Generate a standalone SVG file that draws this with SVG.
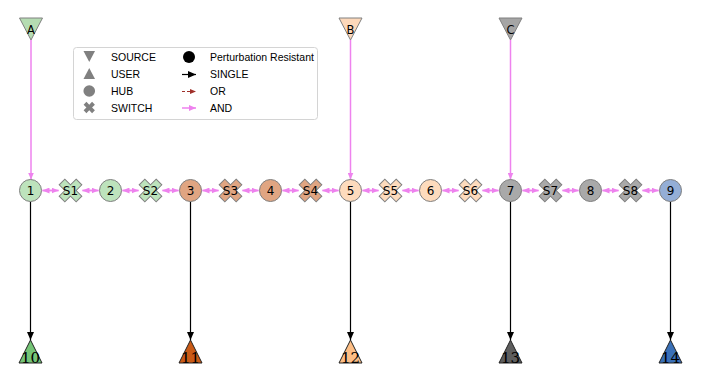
<svg xmlns="http://www.w3.org/2000/svg" xmlns:xlink="http://www.w3.org/1999/xlink" width="703" height="380" viewBox="0 0 703 380">
<style>
.nl{font-family:"DejaVu Sans",sans-serif;font-size:12px;fill:#000;text-anchor:middle}
.sl{font-family:"DejaVu Sans",sans-serif;font-size:11.5px;fill:#000;text-anchor:middle}
.ul{font-family:"DejaVu Serif",serif;font-size:15px;fill:#000;text-anchor:middle}
.lg{font-family:"Liberation Sans",Arial,sans-serif;font-size:10.5px;fill:#000}
.hub{stroke:#808080;stroke-width:1}
.sw{stroke:#808080;stroke-width:1}
.src{stroke:#808080;stroke-width:1}
.usr{stroke:#222;stroke-width:1}
.and{stroke:#ee82ee;stroke-width:1.5;fill:none;marker-end:url(#mp)}
.single{stroke:#000;stroke-width:1.2;fill:none;marker-end:url(#mb)}
.g1{fill:#bde3bc}.g2{fill:#e0a582}.g3{fill:#fddbbd}.g4{fill:#a9a9a9}.g5{fill:#94aed6}
</style>
<defs>
<marker id="mp" markerUnits="userSpaceOnUse" markerWidth="7" markerHeight="6" refX="7" refY="3" orient="auto"><path d="M0,0 L7,3 L0,6 z" fill="#ee82ee"/></marker>
<marker id="mb" markerUnits="userSpaceOnUse" markerWidth="8" markerHeight="7" refX="8" refY="3.5" orient="auto"><path d="M0,0 L8,3.5 L0,7 z" fill="#000"/></marker>
<marker id="mr" markerUnits="userSpaceOnUse" markerWidth="6" markerHeight="5" refX="6" refY="2.5" orient="auto"><path d="M0,0 L6,2.5 L0,5 z" fill="#a0302a"/></marker>
<polygon id="xs" points="-4,-12 4,-12 4,-4 12,-4 12,4 4,4 4,12 -4,12 -4,4 -12,4 -12,-4 -4,-4" transform="rotate(45)"/>
<polygon id="xl" points="-2,-6 2,-6 2,-2 6,-2 6,2 2,2 2,6 -2,6 -2,2 -6,2 -6,-2 -2,-2" transform="rotate(45)"/>
</defs>
<rect width="703" height="380" fill="#fff"/>

<g id="connectors">
<!-- sources to hubs -->
<line class="and" x1="31" y1="40" x2="31" y2="179.5"/>
<line class="and" x1="350.5" y1="40" x2="350.5" y2="179.5"/>
<line class="and" x1="510.5" y1="40" x2="510.5" y2="179.5"/>
<!-- hubs to users -->
<line class="single" x1="30.5" y1="201.5" x2="30.5" y2="340"/>
<line class="single" x1="190.5" y1="201.5" x2="190.5" y2="340"/>
<line class="single" x1="350.5" y1="201.5" x2="350.5" y2="340"/>
<line class="single" x1="510.5" y1="201.5" x2="510.5" y2="340"/>
<line class="single" x1="670.5" y1="201.5" x2="670.5" y2="340"/>
<!-- horizontal AND double edges -->
<g id="h-edges">
<line class="and" x1="42.5" y1="190.5" x2="58.5" y2="190.5"/><line class="and" x1="58.5" y1="190.5" x2="42.5" y2="190.5"/>
<line class="and" x1="82.5" y1="190.5" x2="98.5" y2="190.5"/><line class="and" x1="98.5" y1="190.5" x2="82.5" y2="190.5"/>
<line class="and" x1="122.5" y1="190.5" x2="138.5" y2="190.5"/><line class="and" x1="138.5" y1="190.5" x2="122.5" y2="190.5"/>
<line class="and" x1="162.5" y1="190.5" x2="178.5" y2="190.5"/><line class="and" x1="178.5" y1="190.5" x2="162.5" y2="190.5"/>
<line class="and" x1="202.5" y1="190.5" x2="218.5" y2="190.5"/><line class="and" x1="218.5" y1="190.5" x2="202.5" y2="190.5"/>
<line class="and" x1="242.5" y1="190.5" x2="258.5" y2="190.5"/><line class="and" x1="258.5" y1="190.5" x2="242.5" y2="190.5"/>
<line class="and" x1="282.5" y1="190.5" x2="298.5" y2="190.5"/><line class="and" x1="298.5" y1="190.5" x2="282.5" y2="190.5"/>
<line class="and" x1="322.5" y1="190.5" x2="338.5" y2="190.5"/><line class="and" x1="338.5" y1="190.5" x2="322.5" y2="190.5"/>
<line class="and" x1="362.5" y1="190.5" x2="378.5" y2="190.5"/><line class="and" x1="378.5" y1="190.5" x2="362.5" y2="190.5"/>
<line class="and" x1="402.5" y1="190.5" x2="418.5" y2="190.5"/><line class="and" x1="418.5" y1="190.5" x2="402.5" y2="190.5"/>
<line class="and" x1="442.5" y1="190.5" x2="458.5" y2="190.5"/><line class="and" x1="458.5" y1="190.5" x2="442.5" y2="190.5"/>
<line class="and" x1="482.5" y1="190.5" x2="498.5" y2="190.5"/><line class="and" x1="498.5" y1="190.5" x2="482.5" y2="190.5"/>
<line class="and" x1="522.5" y1="190.5" x2="538.5" y2="190.5"/><line class="and" x1="538.5" y1="190.5" x2="522.5" y2="190.5"/>
<line class="and" x1="562.5" y1="190.5" x2="578.5" y2="190.5"/><line class="and" x1="578.5" y1="190.5" x2="562.5" y2="190.5"/>
<line class="and" x1="602.5" y1="190.5" x2="618.5" y2="190.5"/><line class="and" x1="618.5" y1="190.5" x2="602.5" y2="190.5"/>
<line class="and" x1="642.5" y1="190.5" x2="658.5" y2="190.5"/><line class="and" x1="658.5" y1="190.5" x2="642.5" y2="190.5"/>
</g>
</g>

<!-- legend -->
<g id="legend">
<rect x="73.5" y="47.5" width="244" height="72" rx="3" fill="#fff" stroke="#d4d4d4" stroke-width="1"/>
<polygon points="83.5,51 95,51 89.25,62" fill="#808080"/>
<text class="lg" x="111" y="60.7">SOURCE</text>
<polygon points="83.5,79 95,79 89.25,68" fill="#808080"/>
<text class="lg" x="111" y="78.3">USER</text>
<circle cx="89.25" cy="91" r="5.8" fill="#808080"/>
<text class="lg" x="111" y="95">HUB</text>
<use xlink:href="#xl" x="89.25" y="107.5" fill="#808080"/>
<text class="lg" x="111" y="111.7">SWITCH</text>
<circle cx="189" cy="57" r="6" fill="#000"/>
<text class="lg" x="210" y="60.7">Perturbation Resistant</text>
<line x1="182" y1="74.5" x2="196" y2="74.5" stroke="#000" stroke-width="1.2" marker-end="url(#mb)"/>
<text class="lg" x="210" y="78.3">SINGLE</text>
<line x1="182" y1="91.5" x2="196" y2="91.5" stroke="#a0302a" stroke-width="1.2" stroke-dasharray="3,2" marker-end="url(#mr)"/>
<text class="lg" x="210" y="95">OR</text>
<line x1="182" y1="108" x2="196" y2="108" stroke="#ee82ee" stroke-width="1.5" marker-end="url(#mp)"/>
<text class="lg" x="210" y="111.7">AND</text>
</g>

<!-- sources -->
<g id="A"><polygon class="src" points="19.5,18 42.5,18 31,40" fill="#b5dcb2"/><text class="sl" x="31" y="33.5">A</text></g>
<g id="B"><polygon class="src" points="339,18 362,18 350.5,40" fill="#fdd8ba"/><text class="sl" x="350.5" y="33.5">B</text></g>
<g id="C"><polygon class="src" points="499,18 522,18 510.5,40" fill="#a5a5a5"/><text class="sl" x="510.5" y="33.5">C</text></g>

<!-- hubs -->
<g id="n1"><circle class="hub g1" cx="30.5" cy="190.5" r="11"/><text class="nl" x="30.5" y="195">1</text></g>
<g id="n2"><circle class="hub g1" cx="110.5" cy="190.5" r="11"/><text class="nl" x="110.5" y="195">2</text></g>
<g id="n3"><circle class="hub g2" cx="190.5" cy="190.5" r="11"/><text class="nl" x="190.5" y="195">3</text></g>
<g id="n4"><circle class="hub g2" cx="270.5" cy="190.5" r="11"/><text class="nl" x="270.5" y="195">4</text></g>
<g id="n5"><circle class="hub g3" cx="350.5" cy="190.5" r="11"/><text class="nl" x="350.5" y="195">5</text></g>
<g id="n6"><circle class="hub g3" cx="430.5" cy="190.5" r="11"/><text class="nl" x="430.5" y="195">6</text></g>
<g id="n7"><circle class="hub g4" cx="510.5" cy="190.5" r="11"/><text class="nl" x="510.5" y="195">7</text></g>
<g id="n8"><circle class="hub g4" cx="590.5" cy="190.5" r="11"/><text class="nl" x="590.5" y="195">8</text></g>
<g id="n9"><circle class="hub g5" cx="670.5" cy="190.5" r="11"/><text class="nl" x="670.5" y="195">9</text></g>

<!-- switches -->
<g id="S1"><use xlink:href="#xs" x="70.5" y="190.5" class="sw g1"/><text class="nl" x="70.5" y="195">S1</text></g>
<g id="S2"><use xlink:href="#xs" x="150.5" y="190.5" class="sw g1"/><text class="nl" x="150.5" y="195">S2</text></g>
<g id="S3"><use xlink:href="#xs" x="230.5" y="190.5" class="sw g2"/><text class="nl" x="230.5" y="195">S3</text></g>
<g id="S4"><use xlink:href="#xs" x="310.5" y="190.5" class="sw g2"/><text class="nl" x="310.5" y="195">S4</text></g>
<g id="S5"><use xlink:href="#xs" x="390.5" y="190.5" class="sw g3"/><text class="nl" x="390.5" y="195">S5</text></g>
<g id="S6"><use xlink:href="#xs" x="470.5" y="190.5" class="sw g3"/><text class="nl" x="470.5" y="195">S6</text></g>
<g id="S7"><use xlink:href="#xs" x="550.5" y="190.5" class="sw g4"/><text class="nl" x="550.5" y="195">S7</text></g>
<g id="S8"><use xlink:href="#xs" x="630.5" y="190.5" class="sw g4"/><text class="nl" x="630.5" y="195">S8</text></g>

<!-- users -->
<g id="n10"><polygon class="usr" points="30.5,340 19,363 42,363" fill="#74c476"/><text class="ul" x="30.5" y="362.5">10</text></g>
<g id="n11"><polygon class="usr" points="190.5,340 179,363 202,363" fill="#c95a16"/><text class="ul" x="190.5" y="362.5">11</text></g>
<g id="n12"><polygon class="usr" points="350.5,340 339,363 362,363" fill="#fdbe85"/><text class="ul" x="350.5" y="362.5">12</text></g>
<g id="n13"><polygon class="usr" points="510.5,340 499,363 522,363" fill="#5e5e5e"/><text class="ul" x="510.5" y="362.5">13</text></g>
<g id="n14"><polygon class="usr" points="670.5,340 659,363 682,363" fill="#3a70b7"/><text class="ul" x="670.5" y="362.5">14</text></g>
</svg>
